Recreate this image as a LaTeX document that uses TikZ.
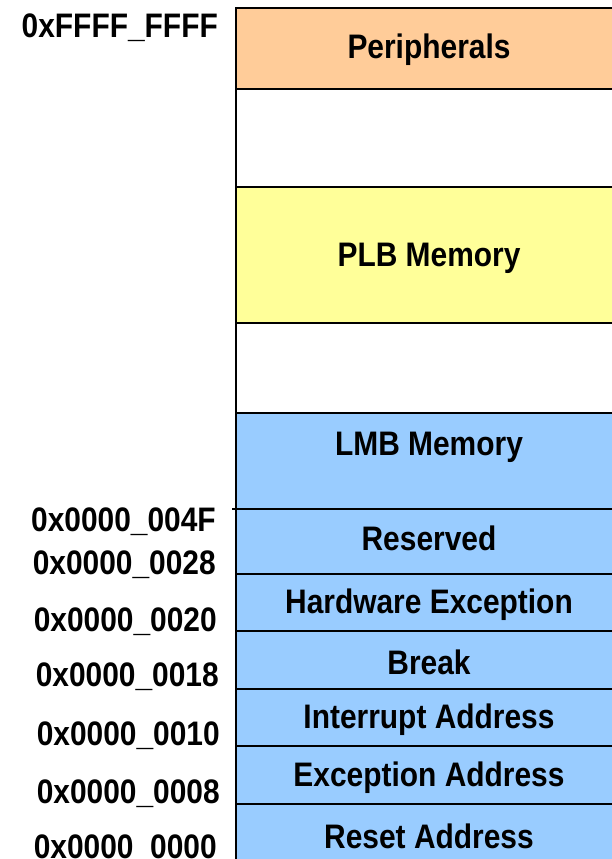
\documentclass[tikz,border=0pt]{standalone}
\usepackage{fontspec}
\setmainfont{Liberation Sans}[FakeStretch=0.88]
\definecolor{periph}{HTML}{FFCC99}
\definecolor{plb}{HTML}{FFFF99}
\definecolor{lmb}{HTML}{99CCFF}
\begin{document}
\begin{tikzpicture}[x=1pt,y=-1pt,
  region/.style={draw=black, line width=2pt, anchor=north west, minimum width=386pt, inner sep=0pt, outer sep=0pt},
  txt/.style={font=\fontsize{34}{40}\selectfont\bfseries, inner sep=0pt},
  addr/.style={font=\fontsize{34}{40}\selectfont\bfseries, inner sep=0pt, anchor=east}]
\useasboundingbox (0,0) rectangle (612,859);
\clip (0,0) rectangle (612,859);
\fill[white] (0,0) rectangle (612,859);
\node[region, fill=periph, minimum height=81pt] (per) at (236,8) {};
\node[region, fill=white, minimum height=98pt] (gap1) at (236,89) {};
\node[region, fill=plb, minimum height=136pt] (plb) at (236,187) {};
\node[region, fill=white, minimum height=90pt] (gap2) at (236,323) {};
\node[region, fill=lmb, minimum height=96pt] (lmbm) at (236,413) {};
\node[region, fill=lmb, minimum height=65pt] (res) at (236,509) {};
\node[region, fill=lmb, minimum height=57pt] (hwe) at (236,574) {};
\node[region, fill=lmb, minimum height=58pt] (brk) at (236,631) {};
\node[region, fill=lmb, minimum height=57pt] (irq) at (236,689) {};
\node[region, fill=lmb, minimum height=58pt] (exc) at (236,746) {};
\node[region, fill=lmb, minimum height=70pt] (rst) at (236,804) {};
\coordinate (tick) at (232,509);
\draw[line width=2pt] (tick) -- (res.north west);
\node[txt] (tper) at (429,50) {Peripherals};
\node[txt] (tplb) at (429,258) {PLB Memory};
\node[txt] (tlmb) at (429,447) {LMB Memory};
\node[txt] (tres) at (429,538) {Reserved};
\node[txt] (thwe) at (429,605) {Hardware Exception};
\node[txt] (tbrk) at (429,662) {Break};
\node[txt] (tirq) at (429,720) {Interrupt Address};
\node[txt] (texc) at (429,778) {Exception Address};
\node[txt] (trst) at (429,836) {Reset Address};
\node[addr] (aF) at (218,28) {0xFFFF\_FFFF};
\node[addr] (a4F) at (216,522) {0x0000\_004F};
\node[addr] (a28) at (216,565) {0x0000\_0028};
\node[addr] (a20) at (217,622) {0x0000\_0020};
\node[addr] (a18) at (219,677) {0x0000\_0018};
\node[addr] (a10) at (220,736) {0x0000\_0010};
\node[addr] (a08) at (220,794) {0x0000\_0008};
\node[addr] (a00) at (217,849) {0x0000\_0000};
\end{tikzpicture}
\end{document}
